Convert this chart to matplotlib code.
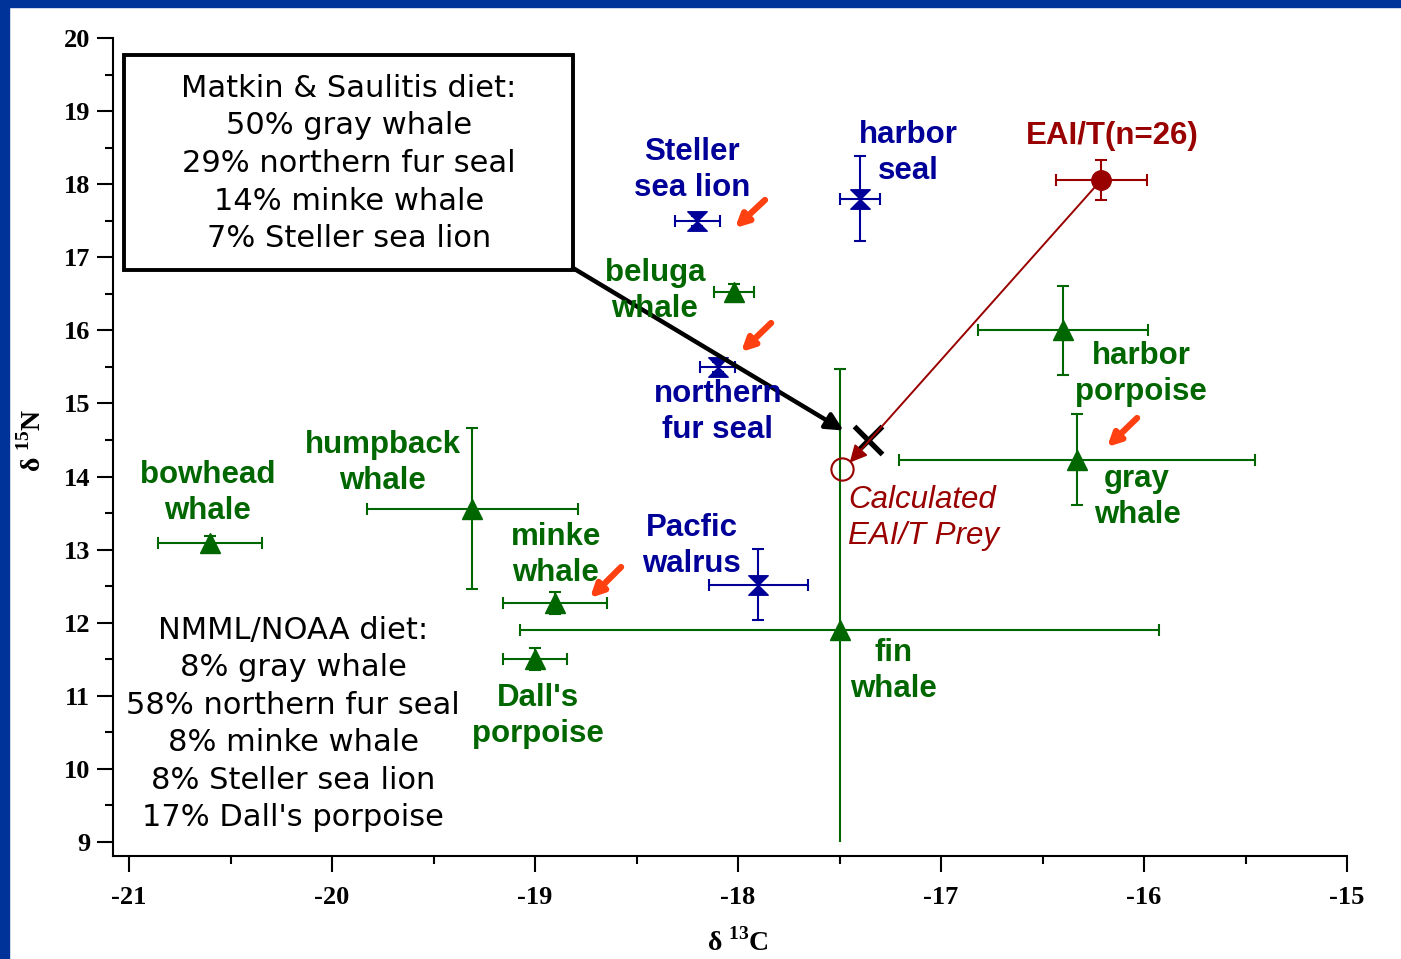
import matplotlib
matplotlib.use('Agg')
import matplotlib.pyplot as plt
from matplotlib.path import Path
from matplotlib.patches import Rectangle

# ---------------- data ----------------
blue_names = ["Steller sea lion", "harbor seal", "northern fur seal", "Pacific walrus"]
blue_x = [-18.20, -17.40, -18.10, -17.90]
blue_y = [17.50, 17.80, 15.50, 12.52]
blue_xerr = [0.11, 0.10, 0.086, 0.244]
blue_yerr = [0.07, 0.58, 0.07, 0.486]

green_names = ["beluga whale", "harbor porpoise", "gray whale", "fin whale",
               "humpback whale", "minke whale", "Dall's porpoise", "bowhead whale"]
green_x = [-18.02, -16.40, -16.33, -17.50, -19.31, -18.90, -19.00, -20.60]
green_y = [16.53, 16.00, 14.23, 11.90, 13.56, 12.27, 11.50, 13.09]
green_xerr = [0.10, 0.42, 0.877, 1.575, 0.52, 0.256, 0.158, 0.256]
green_yerr = [0.11, 0.61, 0.62, 3.57, 1.10, 0.15, 0.15, 0.09]

eai_x = [-16.21]
eai_y = [18.06]
eai_xerr = [0.224]
eai_yerr = [0.27]

calc_x = [-17.49]
calc_y = [14.10]

matkin_x = [-17.36]
matkin_y = [14.50]

xticks = [-21, -20, -19, -18, -17, -16, -15]
yticks = [9, 10, 11, 12, 13, 14, 15, 16, 17, 18, 19, 20]

matkin_text = "Matkin & Saulitis diet:\n50% gray whale\n29% northern fur seal\n14% minke whale\n7% Steller sea lion"
nmml_text = "NMML/NOAA diet:\n8% gray whale\n58% northern fur seal\n8% minke whale\n8% Steller sea lion\n17% Dall's porpoise"

# ---------------- style ----------------
BLUE = '#000099'
GREEN = '#006600'
RED = '#990000'
ORANGE = '#FF4010'
FRAME = '#003399'

plt.rcParams['mathtext.fontset'] = 'custom'
plt.rcParams['mathtext.rm'] = 'Liberation Serif'
plt.rcParams['mathtext.bf'] = 'Liberation Serif:bold'

fig = plt.figure(figsize=(14.01, 9.59), dpi=100)
fig.patch.set_facecolor('white')
ax = fig.add_axes([129/1401, 1 - 842/959, 1218/1401, 804/959])

# blue frame
fig.patches.append(Rectangle((0, 1 - 7/959), 1, 7/959, transform=fig.transFigure,
                             color=FRAME, zorder=0))
fig.patches.append(Rectangle((0, 0), 9/1401, 1, transform=fig.transFigure,
                             color=FRAME, zorder=0))

ax.set_xlim(-21, -15)
ax.set_ylim(9, 20)

# hourglass marker
hg = Path([(-1, 1), (1, 1), (0, 0), (-1, 1), (-1, -1), (1, -1), (0, 0), (-1, -1)],
          [Path.MOVETO, Path.LINETO, Path.LINETO, Path.CLOSEPOLY,
           Path.MOVETO, Path.LINETO, Path.LINETO, Path.CLOSEPOLY])

ax.errorbar(green_x, green_y, xerr=green_xerr, yerr=green_yerr, fmt='none',
            ecolor=GREEN, elinewidth=1.5, capsize=4.5, capthick=1.5, zorder=2)
ax.plot(green_x, green_y, ls='none', marker='^', ms=14, color=GREEN, zorder=3)

ax.errorbar(blue_x, blue_y, xerr=blue_xerr, yerr=blue_yerr, fmt='none',
            ecolor=BLUE, elinewidth=1.5, capsize=4.5, capthick=1.5, zorder=2)
ax.plot(blue_x, blue_y, ls='none', marker=hg, ms=14, color=BLUE, zorder=3)

ax.errorbar(eai_x, eai_y, xerr=eai_xerr, yerr=eai_yerr, fmt='none',
            ecolor=RED, elinewidth=1.5, capsize=4.5, capthick=1.5, zorder=2)
ax.plot(eai_x, eai_y, ls='none', marker='o', ms=14, color=RED, zorder=3)

ax.plot(calc_x, calc_y, ls='none', marker='o', ms=16, mfc='none', mec=RED, mew=1.5, zorder=3)
ax.plot(matkin_x, matkin_y, ls='none', marker='x', ms=20, color='black', mew=3.8, zorder=4)

# arrows
ax.annotate('', xy=(-17.48, 14.63), xytext=(-18.813, 16.853),
            arrowprops=dict(arrowstyle='-|>', color='black', lw=3.2, mutation_scale=26,
                            shrinkA=0, shrinkB=0), zorder=4)
ax.annotate('', xy=(-17.45, 14.19), xytext=(eai_x[0], eai_y[0]),
            arrowprops=dict(arrowstyle='-|>', color=RED, lw=1.4, mutation_scale=26,
                            shrinkA=0, shrinkB=0), zorder=4)
orange_arrows = [((-17.867, 17.784), (-18.015, 17.40)),
                 ((-17.837, 16.101), (-17.985, 15.704)),
                 ((-16.034, 14.801), (-16.182, 14.404)),
                 ((-18.576, 12.762), (-18.729, 12.338))]
for tail, head in orange_arrows:
    ax.annotate('', xy=head, xytext=tail,
                arrowprops=dict(arrowstyle='-|>', color=ORANGE, lw=4.5, mutation_scale=19,
                                shrinkA=0, shrinkB=0), zorder=4)

# labels
lab = dict(fontsize=22.5, fontweight='bold', family='Liberation Sans',
           ha='center', va='center', linespacing=1.26, zorder=5)
ax.text(-18.227, 18.194, "Steller\nsea lion", color=BLUE, **lab)
ax.text(-17.163, 18.427, "harbor\nseal", color=BLUE, **lab)
ax.text(-16.158, 18.659, "EAI/T(n=26)", color=RED, **lab)
ax.text(-18.409, 16.538, "beluga\nwhale", color=GREEN, **lab)
ax.text(-18.099, 14.883, "northern\nfur seal", color=BLUE, **lab)
ax.text(-16.015, 15.403, "harbor\nporpoise", color=GREEN, **lab)
ax.text(-16.034, 13.72, "gray\nwhale", color=GREEN, **lab)
ax.text(-19.749, 14.185, "humpback\nwhale", color=GREEN, **lab)
ax.text(-20.611, 13.775, "bowhead\nwhale", color=GREEN, **lab)
ax.text(-18.897, 12.927, "minke\nwhale", color=GREEN, **lab)
ax.text(-18.227, 13.05, "Pacfic\nwalrus", color=BLUE, **lab)
ax.text(-17.236, 11.339, "fin\nwhale", color=GREEN, **lab)
ax.text(-18.985, 10.724, "Dall's\nporpoise", color=GREEN, **lab)
ax.text(-17.458, 13.433, "Calculated\nEAI/T Prey", color=RED, fontsize=22.5,
        fontstyle='italic', family='Liberation Sans', ha='left', va='center',
        linespacing=1.22, zorder=5)

# boxes with diet text
ax.add_patch(Rectangle((-21.025, 16.826), 2.212, 2.941, fill=False, ec='black',
                       lw=2.8, clip_on=False, zorder=5))
ax.text(-19.916, 18.283, matkin_text, fontsize=22, family='DejaVu Sans', ha='center',
        va='center', linespacing=1.37, color='black', zorder=6)
ax.text(-20.192, 10.614, nmml_text, fontsize=22, family='DejaVu Sans', ha='center',
        va='center', linespacing=1.37, color='black', zorder=6)

# axes styling
for s in ['top', 'right']:
    ax.spines[s].set_visible(False)
ax.spines['left'].set_position(('outward', 11.5))
ax.spines['bottom'].set_position(('outward', 10.1))
ax.spines['left'].set_linewidth(1.5)
ax.spines['bottom'].set_linewidth(1.5)
ax.spines['left'].set_bounds(9 - 14/73.09, 20)
ax.spines['bottom'].set_bounds(-21 - 16/203, -15)

ax.set_xticks(xticks)
ax.set_yticks(yticks)
ax.set_xticks([v + 0.5 for v in xticks[:-1]], minor=True)
ax.set_yticks([v + 0.5 for v in yticks[:-1]], minor=True)
ax.set_xticklabels([str(v) for v in xticks])
ax.set_yticklabels([str(v) for v in yticks])
ax.tick_params(which='major', direction='out', length=11.5, width=1.5, pad=5)
ax.tick_params(which='minor', direction='out', length=6, width=1.5)
ax.tick_params(axis='x', which='major', pad=10)
for lbl in ax.get_xticklabels() + ax.get_yticklabels():
    lbl.set_family('Liberation Serif')
    lbl.set_fontweight('bold')
    lbl.set_fontsize(19)

fig.text(738/1401, 1 - 942/959, r'δ $^{\mathbf{13}}$C', fontsize=20, fontweight='bold',
         family='Liberation Serif', ha='center', va='center')
fig.text(32/1401, 1 - 440/959, r'δ $^{\mathbf{15}}$N', fontsize=20, fontweight='bold',
         family='Liberation Serif', ha='center', va='center', rotation=90)

fig.savefig('out.png', dpi=100, facecolor='white')
